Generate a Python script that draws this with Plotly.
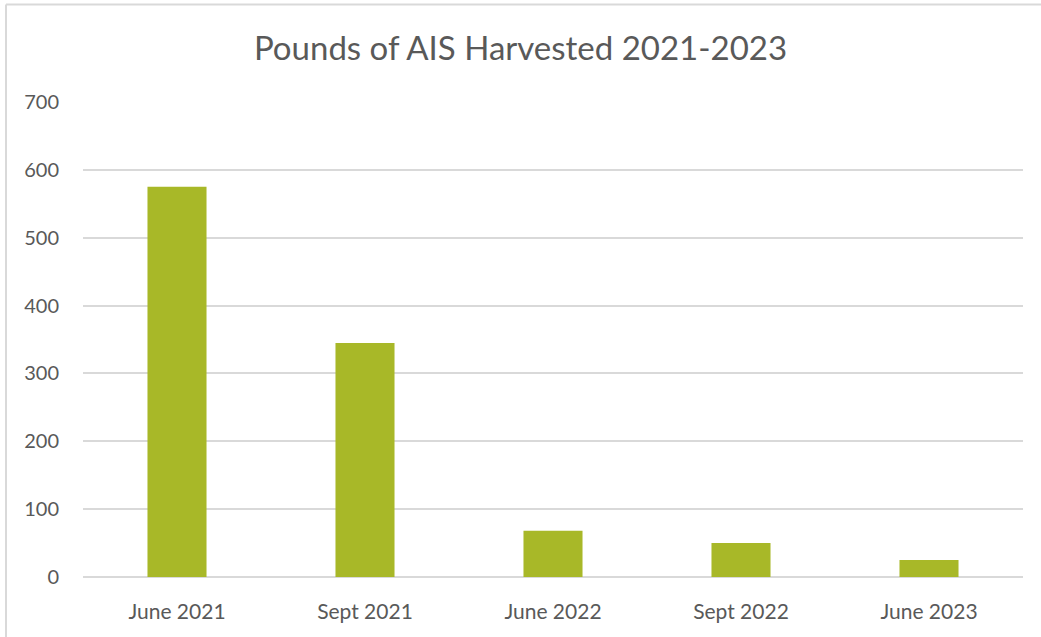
import plotly.graph_objects as go

categories = ["June 2021", "Sept 2021", "June 2022", "Sept 2022", "June 2023"]
pounds = [575, 345, 68, 50, 25]
y_ticks = [0, 100, 200, 300, 400, 500, 600, 700]

W, H = 1041, 637
L, R, T, B = 83, 18, 102, 60
pw, ph = W - L - R, H - T - B

def px_x(x):
    return (x - L) / pw

def px_y(y):
    return (H - B - y) / ph

fig = go.Figure(go.Bar(
    x=categories, y=pounds,
    marker=dict(color="#A8B828", line=dict(width=0)),
    hoverinfo="x+y",
))

fig.update_layout(
    width=W, height=H,
    margin=dict(l=L, r=R, t=T, b=B),
    paper_bgcolor="white", plot_bgcolor="white",
    bargap=0.686,
    font=dict(family="Lato, 'Open Sans', sans-serif", color="#595959"),
    title=dict(text="Pounds of AIS Harvested 2021-2023", x=0.5, xanchor="center",
               y=1 - 48 / H, yanchor="middle",
               font=dict(size=33, color="#595959", family="Lato, 'Open Sans', sans-serif")),
    xaxis=dict(showgrid=False, showline=False, ticks="", tickfont=dict(size=21),
               ticklabelstandoff=20),
    yaxis=dict(range=[0, 700], tickvals=y_ticks, showgrid=True, gridcolor="#D9D9D9",
               gridwidth=1.5, zeroline=True, zerolinecolor="#D9D9D9", zerolinewidth=1.5,
               showline=False, ticks="", tickfont=dict(size=20), ticklabelstandoff=23),
    shapes=[
        dict(type="line", xref="paper", yref="paper", x0=px_x(6), x1=px_x(W), y0=px_y(4.5), y1=px_y(4.5),
             line=dict(color="#D9D9D9", width=2)),
        dict(type="line", xref="paper", yref="paper", x0=px_x(6), x1=px_x(6), y0=px_y(4.5), y1=px_y(H),
             line=dict(color="#D9D9D9", width=2)),
    ],
    showlegend=False,
)

fig.write_html("out.html", config={"displayModeBar": False},
               post_script="document.body.style.margin='0';")
